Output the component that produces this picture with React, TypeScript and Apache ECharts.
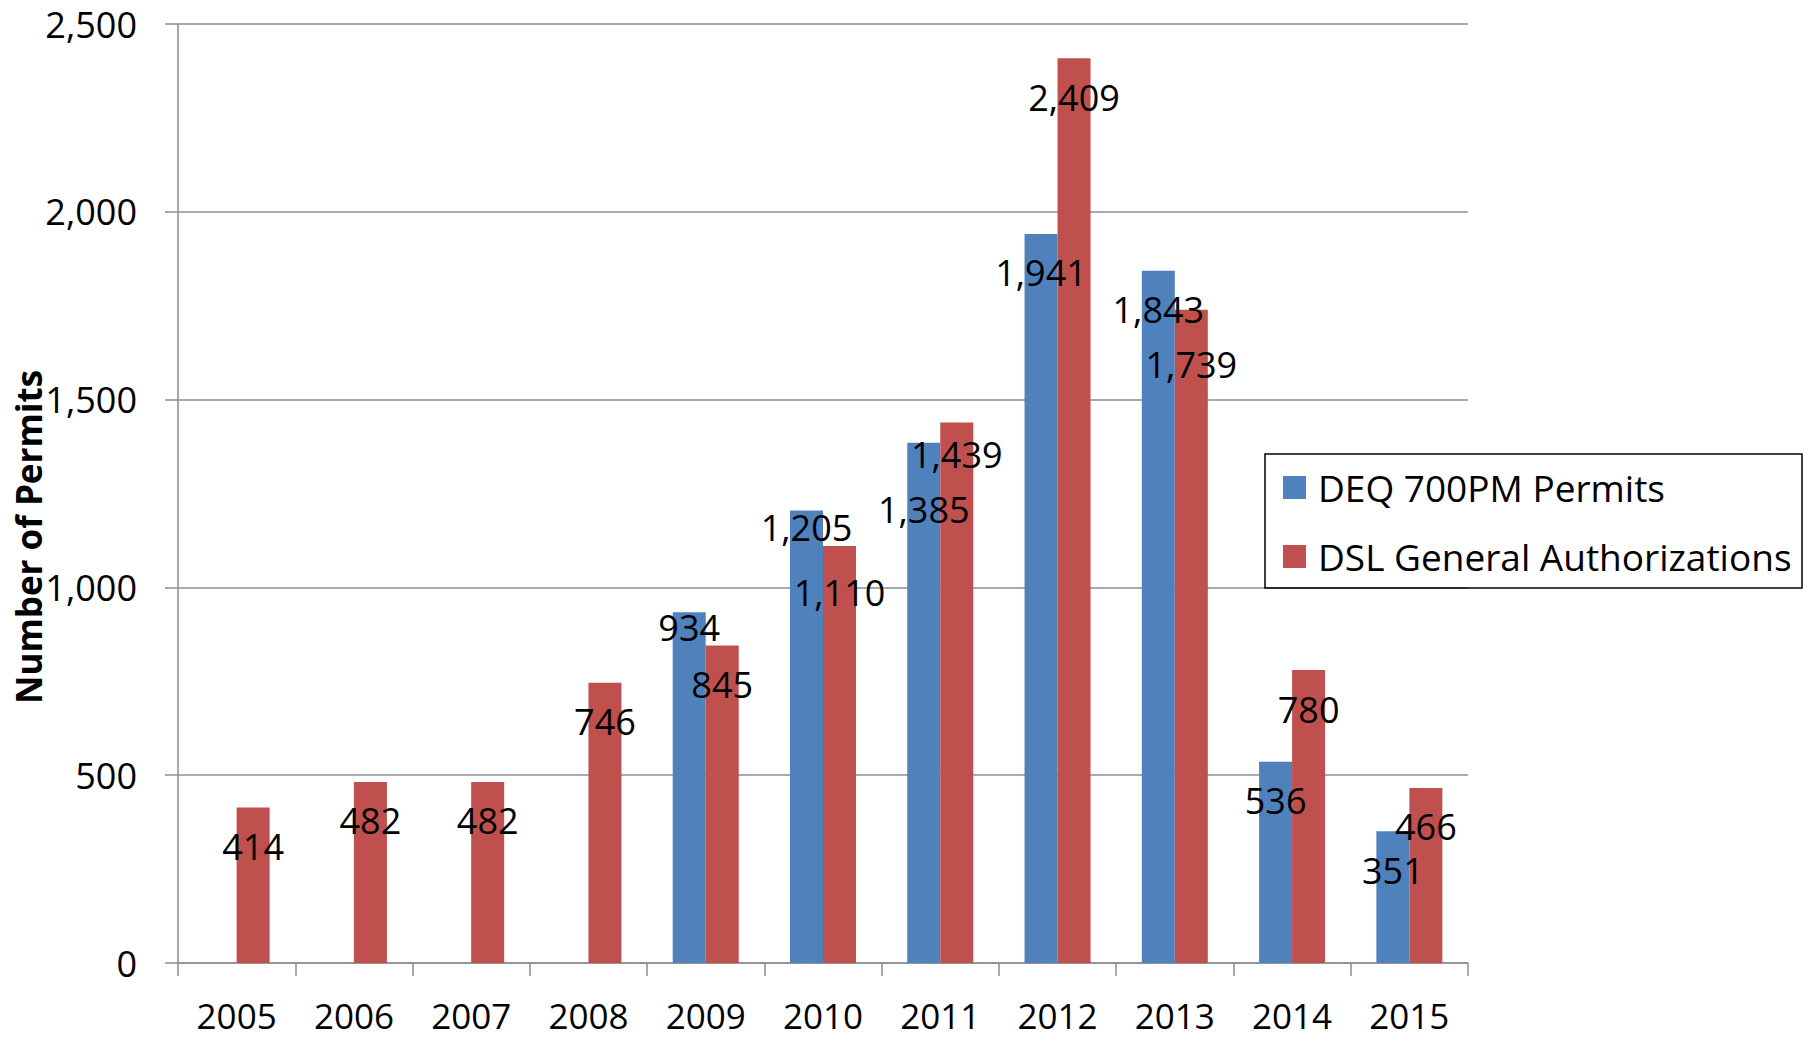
import React, { useEffect, useRef } from "react";
import * as echarts from "echarts";

const years = ["2005", "2006", "2007", "2008", "2009", "2010", "2011", "2012", "2013", "2014", "2015"];
const deqPermits: (number | null)[] = [null, null, null, null, 934, 1205, 1385, 1941, 1843, 536, 351];
const dslAuthorizations: number[] = [414, 482, 482, 746, 845, 1110, 1439, 2409, 1739, 780, 466];
const yTicks = [0, 500, 1000, 1500, 2000, 2500];
const seriesNames = ["DEQ 700PM Permits", "DSL General Authorizations"];

// vertical nudges of individual data labels (px), as placed in the reference
const deqLabelNudge: Record<string, number> = { "2009": -24, "2010": -22, "2011": 28 };
const dslLabelNudge: Record<string, number> = { "2010": 7, "2011": -7, "2013": 16 };

const FONT = "'Open Sans', 'Noto Sans', sans-serif";
const BLUE = "#4F81BD";
const RED = "#C0504D";
const GRID = "#8E8E8E";

function fmt(v: number) {
  return v.toLocaleString("en-US");
}

function buildData(values: (number | null)[], nudge: Record<string, number>) {
  return values.map((v, i) => {
    if (v === null) return null;
    const dy = nudge[years[i]];
    return dy ? { value: v, label: { offset: [0, dy] } } : v;
  });
}

export default function App() {
  const ref = useRef<HTMLDivElement>(null);
  useEffect(() => {
    document.body.style.margin = "0";
    if (!ref.current) return;
    const chart = echarts.init(ref.current, undefined, { renderer: "svg" });
    const labelCfg = {
      show: true,
      position: "insideTop",
      distance: 21,
      color: "#000",
      fontSize: 36,
      fontFamily: FONT,
      formatter: (p: any) => fmt(p.value),
    };
    chart.setOption({
      animation: false,
      backgroundColor: "#fff",
      textStyle: { fontFamily: FONT },
      grid: { left: 178, right: 340, top: 24, bottom: 75, containLabel: false },
      legend: {
        orient: "vertical",
        left: 1283,
        top: 469,
        padding: 0,
        itemWidth: 23,
        itemHeight: 23,
        itemGap: 32,
        icon: "rect",
        data: seriesNames,
        textStyle: { fontSize: 37, fontFamily: FONT, color: "#000", padding: [0, 0, 0, 7] },
      },
      graphic: [
        {
          type: "rect",
          shape: { x: 1265, y: 454, width: 537, height: 134 },
          style: { fill: "none", stroke: "#000", lineWidth: 1.5 },
          z: 10,
        },
        {
          type: "text",
          x: 28,
          y: 537,
          rotation: Math.PI / 2,
          style: {
            text: "Number of Permits",
            fontSize: 35,
            fontWeight: "bold",
            fontFamily: FONT,
            fill: "#000",
            align: "center",
            verticalAlign: "middle",
          },
        },
      ],
      xAxis: {
        type: "category",
        data: years,
        axisLine: { show: true, lineStyle: { color: GRID, width: 1.5 } },
        axisTick: { show: true, length: 13, lineStyle: { color: GRID, width: 1.5 } },
        axisLabel: { fontSize: 35, lineHeight: 30, fontFamily: FONT, color: "#000", margin: 37 },
      },
      yAxis: {
        type: "value",
        min: yTicks[0],
        max: yTicks[yTicks.length - 1],
        interval: 500,
        axisLine: { show: true, lineStyle: { color: GRID, width: 1.5 } },
        axisTick: { show: true, length: 13, lineStyle: { color: GRID, width: 1.5 } },
        splitLine: { show: true, lineStyle: { color: GRID, width: 1.5 } },
        axisLabel: {
          fontSize: 36,
          fontFamily: FONT,
          color: "#000",
          margin: 41,
          formatter: (v: number) => fmt(v),
        },
      },
      series: [
        {
          name: seriesNames[0],
          type: "bar",
          data: buildData(deqPermits, deqLabelNudge),
          barWidth: 33,
          barGap: "0%",
          itemStyle: { color: BLUE },
          label: labelCfg,
        },
        {
          name: seriesNames[1],
          type: "bar",
          data: buildData(dslAuthorizations, dslLabelNudge),
          barWidth: 33,
          barGap: "0%",
          itemStyle: { color: RED },
          label: labelCfg,
        },
      ],
    });
    return () => chart.dispose();
  }, []);
  return <div ref={ref} style={{ width: 1808, height: 1038 }} />;
}
